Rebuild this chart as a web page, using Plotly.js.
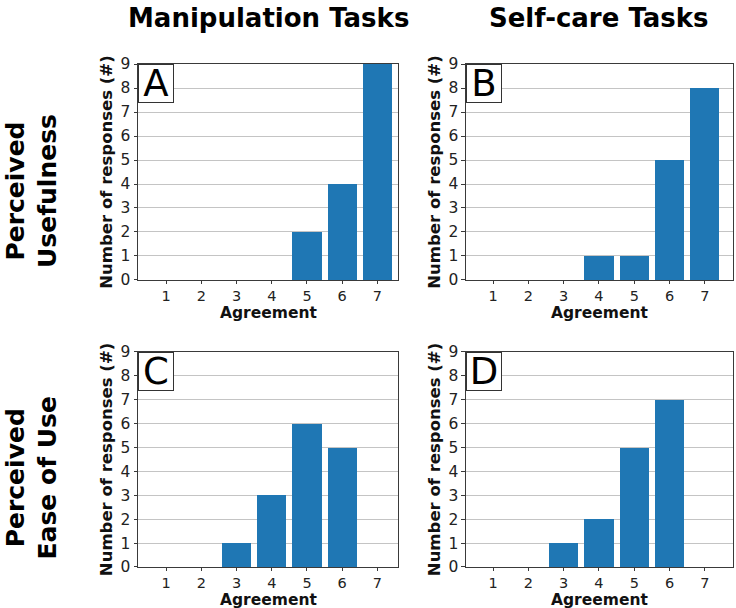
<!DOCTYPE html>
<html>
<head>
<meta charset="utf-8">
<script src="https://cdn.plot.ly/plotly-3.0.1.min.js"></script>
<style>
  html, body { margin: 0; padding: 0; background: #fff; }
  #plot { width: 736px; height: 608px; }
</style>
</head>
<body>
<div id="plot"></div>
<script>
const agreement = [1, 2, 3, 4, 5, 6, 7];
const manipUseful = [0, 0, 0, 0, 2, 4, 9];
const selfcareUseful = [0, 0, 0, 1, 1, 5, 8];
const manipEase = [0, 0, 1, 3, 6, 5, 0];
const selfcareEase = [0, 0, 1, 2, 5, 7, 0];
const panelLetters = ["A", "B", "C", "D"];
const columnTitles = ["Manipulation Tasks", "Self-care Tasks"];
const rowTitles = ["Perceived<br>Usefulness", "Perceived<br>Ease of Use"];
const yTicks = [0, 1, 2, 3, 4, 5, 6, 7, 8, 9];

const font = "DejaVu Sans, sans-serif";
const barColor = "#1f77b4";
const frame = "#3a3a3a";

const series = [manipUseful, selfcareUseful, manipEase, selfcareEase];
const traces = series.map((vals, i) => ({
  type: "bar",
  x: agreement,
  y: vals,
  width: 0.83,
  marker: { color: barColor, line: { width: 0 } },
  xaxis: i === 0 ? "x" : "x" + (i + 1),
  yaxis: i === 0 ? "y" : "y" + (i + 1),
  hoverinfo: "none"
}));

// panel boxes in paper fractions (from bottom)
const xDomains = [[0.1875, 0.541], [0.633, 0.996]];
const yDomains = [[0.5395, 0.8947], [0.0675, 0.4211]];
const H = 608, W = 736;

const layout = {
  width: W,
  height: H,
  margin: { l: 0, r: 0, t: 0, b: 0 },
  paper_bgcolor: "#fff",
  plot_bgcolor: "#fff",
  showlegend: false,
  bargap: 0,
  font: { family: font, color: "#222", size: 14 },
  annotations: []
};

for (let i = 0; i < 4; i++) {
  const col = i % 2, row = Math.floor(i / 2);
  const sfx = i === 0 ? "" : String(i + 1);
  layout["xaxis" + sfx] = {
    domain: xDomains[col],
    anchor: "y" + sfx,
    range: col === 0 ? [0.2, 7.59] : [0.23, 7.8],
    tickvals: agreement,
    ticks: "outside",
    ticklen: 3,
    tickcolor: frame,
    tickfont: { family: font, size: 14.5, color: "#222" },
    showline: true,
    linecolor: frame,
    linewidth: 1,
    mirror: true,
    showgrid: false,
    zeroline: false,
    fixedrange: true
  };
  layout["yaxis" + sfx] = {
    domain: yDomains[row],
    anchor: "x" + sfx,
    range: [0, 9],
    tickvals: yTicks,
    ticks: "outside",
    ticklen: 3.5,
    tickcolor: frame,
    tickfont: { family: font, size: 15.5, color: "#222" },
    showline: true,
    linecolor: frame,
    linewidth: 1,
    mirror: true,
    showgrid: true,
    gridcolor: "#c4c4c4",
    gridwidth: 1,
    zeroline: false,
    fixedrange: true,
    title: { text: "<b>Number of responses (#)</b>", font: { family: font, size: 16.5, color: "#111" }, standoff: 3 }
  };
  // x title placed under the tick labels
  layout.annotations.push({
    text: "<b>Agreement</b>",
    xref: "paper", yref: "paper",
    x: (xDomains[col][0] + xDomains[col][1]) / 2,
    y: yDomains[row][0] - 33 / H,
    xanchor: "center", yanchor: "middle",
    borderpad: 0,
    showarrow: false,
    font: { family: font, size: 15.5, color: "#111" }
  });
  layout.annotations.push({
    text: panelLetters[i],
    xref: "paper", yref: "paper",
    x: xDomains[col][0], y: yDomains[row][1],
    xanchor: "left", yanchor: "top",
    width: 34,
    height: 37,
    showarrow: false,
    font: { family: font, size: 37, color: "#000" },
    bgcolor: "#fff",
    bordercolor: "#333",
    borderwidth: 1,
    borderpad: 0
  });
}

columnTitles.forEach((t, c) => {
  layout.annotations.push({
    text: "<b>" + t + "</b>",
    xref: "paper", yref: "paper",
    x: (xDomains[c][0] + xDomains[c][1]) / 2, y: 1 - 18 / H,
    xanchor: "center", yanchor: "middle",
    showarrow: false,
    font: { family: font, size: 26, color: "#000" }
  });
});

rowTitles.forEach((t, r) => {
  layout.annotations.push({
    text: "<b>" + t + "</b>",
    xref: "paper", yref: "paper",
    x: 32 / W, y: (yDomains[r][0] + yDomains[r][1]) / 2 - 19 / H,
    xanchor: "center", yanchor: "middle",
    textangle: -90,
    showarrow: false,
    font: { family: font, size: 25, color: "#000" }
  });
});

Plotly.newPlot("plot", traces, layout, { displayModeBar: false, staticPlot: true });
</script>
</body>
</html>
